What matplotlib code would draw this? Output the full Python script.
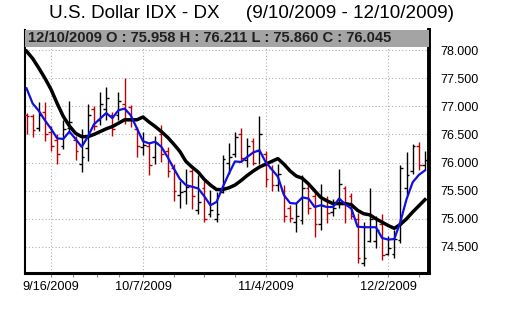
import numpy as np
import pandas as pd
import matplotlib
matplotlib.use("Agg")
import matplotlib.pyplot as plt
from matplotlib.patches import Rectangle
from matplotlib.ticker import FixedLocator, FuncFormatter

plt.rcParams['font.family'] = ['Liberation Sans', 'DejaVu Sans']

# trading days 9/10/2009 - 12/10/2009 (Thanksgiving traded)
dates = pd.bdate_range('2009-09-10', '2009-12-10')

opens = [76.85, 76.83, 76.62, 76.90, 76.55, 76.40, 76.30, 76.62, 76.40, 75.98,
         76.25, 76.95, 76.75, 76.95, 76.85, 76.85, 77.05, 76.98, 76.60, 76.28,
         76.30, 76.10, 76.50, 76.20, 75.90, 75.42, 75.50, 75.85, 75.15, 75.55,
         75.08, 75.00, 75.48, 76.00, 76.15, 76.50, 76.05, 76.38, 76.20, 76.15,
         75.90, 75.60, 75.50, 75.20, 74.95, 74.97, 75.55, 75.40, 74.90, 75.35,
         75.12, 75.30, 75.55, 75.40, 75.00, 74.22, 74.60, 74.60, 74.90, 74.38,
         74.38, 74.62, 75.55, 75.85, 76.30, 75.958]
highs = [76.88, 76.86, 77.07, 77.07, 76.65, 76.50, 76.75, 77.10, 76.47, 76.60,
         77.05, 77.00, 77.26, 77.35, 76.90, 77.26, 77.50, 77.02, 76.64, 76.54,
         76.36, 76.48, 76.66, 76.28, 75.98, 75.68, 75.89, 75.89, 75.77, 75.68,
         75.51, 75.48, 76.13, 76.34, 76.55, 76.61, 76.43, 76.43, 76.82, 76.20,
         75.95, 75.98, 75.60, 75.25, 75.30, 75.77, 75.62, 75.50, 75.62, 75.40,
         75.35, 75.88, 75.58, 75.45, 75.10, 74.95, 75.55, 75.05, 75.09, 74.70,
         74.80, 75.95, 76.18, 76.33, 76.36, 76.211]
lows = [76.50, 76.46, 76.56, 76.39, 76.20, 75.98, 76.24, 76.54, 76.05, 75.84,
        76.03, 76.57, 76.66, 76.75, 76.48, 76.75, 76.68, 76.63, 76.10, 76.13,
        75.77, 75.98, 76.01, 75.74, 75.32, 75.20, 75.26, 75.18, 75.09, 74.94,
        75.03, 74.94, 75.45, 75.80, 76.10, 76.01, 75.92, 75.95, 75.98, 75.57,
        75.50, 75.50, 74.94, 74.95, 74.76, 74.91, 75.09, 74.67, 74.80, 74.92,
        75.05, 75.20, 74.93, 75.00, 74.22, 74.16, 74.58, 74.48, 74.27, 74.36,
        74.30, 74.57, 75.42, 75.80, 75.86, 75.860]
closes = [76.82, 76.58, 76.85, 76.50, 76.30, 76.15, 76.60, 76.72, 76.20, 76.10,
          76.85, 76.65, 77.05, 77.15, 76.60, 77.10, 76.92, 76.75, 76.30, 76.32,
          75.95, 76.35, 76.15, 75.85, 75.50, 75.48, 75.57, 75.40, 75.30, 75.00,
          75.15, 75.08, 76.07, 76.10, 76.45, 76.08, 76.30, 76.00, 76.50, 75.70,
          75.60, 75.80, 75.05, 75.02, 75.05, 75.55, 75.20, 74.90, 75.25, 75.10,
          75.20, 75.62, 75.25, 75.05, 74.30, 74.30, 75.00, 74.80, 74.35, 74.48,
          74.64, 75.90, 75.77, 76.30, 75.96, 76.045]

# moving averages as drawn on the chart
ma_short = [77.32, 77.05, 76.92, 76.75, 76.60, 76.43, 76.42, 76.55, 76.42, 76.28,
            76.46, 76.68, 76.78, 76.88, 76.79, 76.93, 76.96, 76.84, 76.61, 76.38,
            76.34, 76.37, 76.28, 76.10, 75.90, 75.71, 75.60, 75.57, 75.54, 75.40,
            75.24, 75.30, 75.56, 75.80, 76.02, 76.01, 76.10, 76.18, 76.22, 76.01,
            75.88, 75.75, 75.42, 75.28, 75.27, 75.38, 75.36, 75.21, 75.24, 75.21,
            75.21, 75.36, 75.26, 75.18, 74.86, 74.85, 74.85, 74.85, 74.66, 74.63,
            74.64, 74.95, 75.35, 75.65, 75.78, 75.86]
ma_long = [77.98, 77.85, 77.68, 77.50, 77.30, 77.05, 76.82, 76.65, 76.52, 76.46,
           76.46, 76.50, 76.55, 76.60, 76.64, 76.70, 76.76, 76.76, 76.76, 76.81,
           76.72, 76.64, 76.55, 76.45, 76.33, 76.20, 76.02, 75.92, 75.83, 75.70,
           75.60, 75.52, 75.52, 75.55, 75.60, 75.68, 75.77, 75.85, 75.92, 75.97,
           76.02, 76.07, 75.97, 75.85, 75.76, 75.72, 75.62, 75.50, 75.38, 75.32,
           75.27, 75.27, 75.27, 75.25, 75.15, 75.09, 75.07, 75.00, 74.94, 74.88,
           74.83, 74.90, 75.00, 75.12, 75.23, 75.34]

label_dates = ['2009-09-16', '2009-10-07', '2009-11-04', '2009-12-02']
y_levels = [74.5, 75.0, 75.5, 76.0, 76.5, 77.0, 77.5, 78.0]

fig = plt.figure(figsize=(5.09, 3.11), dpi=100)
ax = fig.add_axes([25 / 509, 38 / 311, 404 / 509, 243 / 311])

x = np.arange(len(dates))
o = np.array(opens)
c = np.array(closes)
cols = np.where(c < o, '#c00000', 'black')

# OHLC bars
ax.vlines(x, lows, highs, colors=cols, lw=1.0, zorder=3)
ax.hlines(o, x - 0.45, x, colors=cols, lw=1.0, zorder=3)
ax.hlines(c, x, x + 0.45, colors=cols, lw=1.0, zorder=3)

ax.plot(x, ma_long, color='black', lw=2.5, zorder=4, solid_joinstyle='round')
ax.plot(x, ma_short, color='#1010e0', lw=1.6, zorder=5)

ax.set_xlim(-0.25, 65.66)
ax.set_ylim(74.036, 78.357)

# x axis
date_str = [d.strftime('%Y-%m-%d') for d in dates]
major = [date_str.index(d) for d in label_dates]
ax.xaxis.set_major_locator(FixedLocator(major))
ax.set_xticklabels([f"{dates[i].month}/{dates[i].day}/{dates[i].year}" for i in major])
ax.xaxis.set_minor_locator(FixedLocator([7.6, 11.5, 15.1, 24, 29, 34, 44, 49, 54, 64]))
ax.tick_params(axis='x', which='both', length=3, width=0.8, color='#888888',
               labelsize=9.2, pad=3)

# y axis on right
ax.yaxis.tick_right()
ax.set_yticks(y_levels)
ax.yaxis.set_major_formatter(FuncFormatter(lambda v, p: f"{v:.3f}"))
ax.tick_params(axis='y', length=0, labelsize=9, pad=8)

ax.grid(axis='y', linestyle=(0, (1, 2)), color='#b0b0b0', lw=0.8)
ax.grid(axis='x', which='major', linestyle=(0, (1, 2)), color='#b0b0b0', lw=0.8)
ax.set_axisbelow(True)

ax.spines['top'].set_visible(False)
ax.spines['left'].set_linewidth(1.5)
ax.spines['bottom'].set_linewidth(2.2)
ax.spines['right'].set_linewidth(2.8)

# header bar with last bar's values
hh = 16.5 / 243
ax.add_patch(Rectangle((0, 1 - hh), 1, hh, transform=ax.transAxes,
                       facecolor='#a4a4a4', edgecolor='none', zorder=6, clip_on=False))
last = len(dates) - 1
hdr = (f"{dates[last].month}/{dates[last].day}/{dates[last].year} "
       f"O : {opens[last]:.3f} H : {highs[last]:.3f} L : {lows[last]:.3f} C : {closes[last]:.3f}")
ax.text(0.007, 1 - hh / 2, hdr, transform=ax.transAxes, ha='left', va='center',
        fontsize=10.6, fontweight='bold', color='#202020', zorder=7)

fig.text(0.494, 0.958, "U.S. Dollar IDX - DX     (9/10/2009 - 12/10/2009)",
         ha='center', va='center', fontsize=13.6)

fig.savefig('out.png', dpi=100)
